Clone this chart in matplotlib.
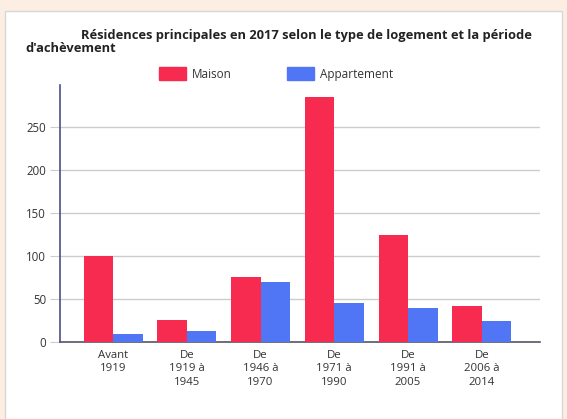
import matplotlib
matplotlib.use("Agg")
from matplotlib import pyplot as plt
from matplotlib.patches import Rectangle, Patch
import numpy as np

plt.rcParams['font.family'] = ['Open Sans', 'DejaVu Sans']

periodes = ["Avant\n1919", "De\n1919 à\n1945", "De\n1946 à\n1970",
            "De\n1971 à\n1990", "De\n1991 à\n2005", "De\n2006 à\n2014"]
maison = [100, 25, 75, 285, 124, 41]
appartement = [9, 13, 69, 45, 39, 24]

W, H = 567, 419
fig = plt.figure(figsize=(W / 100, H / 100), dpi=100)
fig.patch.set_facecolor('#fdeee4')

# panneau blanc
fig.patches.append(Rectangle((5 / W, 0), 557 / W, (H - 11) / H,
                             transform=fig.transFigure, facecolor='white',
                             edgecolor='#d9d6d4', lw=1, zorder=-5))

ax = fig.add_axes([60 / W, 77.3 / H, 480 / W, 256.7 / H])
ax.set_zorder(2)
ax.set_facecolor('none')

x = np.arange(len(periodes))
w = 0.4
ax.bar(x - w / 2, maison, w, color='#f72b50', zorder=3)
ax.bar(x + w / 2, appartement, w, color='#5176f5', zorder=3)

ax.set_xlim(-0.72, 5.79)
ax.set_ylim(0, 298.5)
ax.set_yticks([0, 50, 100, 150, 200, 250])
ax.set_xticks(x)
ax.set_xticklabels(periodes, fontsize=8.2, color='#333333', linespacing=1.28)

ax.grid(axis='y', color='#cccccc', lw=1, zorder=0)
ax.tick_params(axis='y', length=7, color='#cccccc', labelsize=8.3,
               labelcolor='#333333', pad=3)
ax.tick_params(axis='x', length=0, pad=6)

for s in ['top', 'right']:
    ax.spines[s].set_visible(False)
ax.spines['left'].set_color('#4d4d8c')
ax.spines['left'].set_linewidth(1.2)
ax.spines['bottom'].set_color('#555566')
ax.spines['bottom'].set_linewidth(1.2)

fig.text(306 / W, 1 - 35 / H,
         "Résidences principales en 2017 selon le type de logement et la période",
         ha='center', va='center', fontsize=9.3, fontweight='bold', color='#222222')
fig.text(25 / W, 1 - 48.5 / H, "d'achèvement",
         ha='left', va='center', fontsize=9.3, fontweight='bold', color='#222222')

handles = [Patch(color='#f72b50', label='Maison'),
           Patch(color='#5176f5', label='Appartement')]
fig.legend(handles=handles, loc='center', bbox_to_anchor=(276 / W, 1 - 74 / H),
           ncol=2, frameon=False, fontsize=8.5, handlelength=2.3,
           handleheight=1.35, handletextpad=0.5, columnspacing=4.7,
           labelcolor='#333333')

plt.savefig('out.png', dpi=100, facecolor=fig.get_facecolor())
